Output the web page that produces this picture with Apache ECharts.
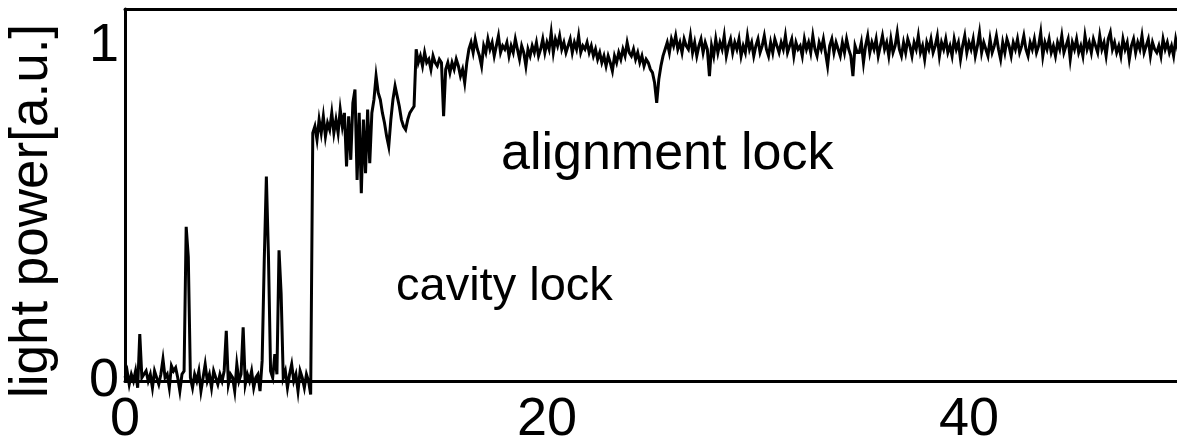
<!DOCTYPE html>
<html>
<head>
<meta charset="utf-8">
<script src="https://cdn.jsdelivr.net/npm/echarts@6/dist/echarts.min.js"></script>
<style>
  html, body { margin: 0; padding: 0; background: #fff; }
  #chart { width: 1177px; height: 447px; }
</style>
</head>
<body>
<div id="chart"></div>
<script>
// Light power trace during lock acquisition, one sample every 0.1 time units.
const sampleStep = 0.1;

// Samples grouped ten per time unit (t = k.0 ... k.9).
const powerUnlocked = [
  0.01, 0.03, -0.01, 0.02, 0.00, 0.03, -0.02, 0.14, 0.01, 0.02,
  0.03, 0.00, 0.02, -0.02, 0.03, 0.01, -0.01, 0.02, 0.065, 0.01,
  0.02, -0.02, 0.045, 0.03, 0.04, 0.01, -0.03, 0.02, 0.03, 0.46,
  0.37, 0.01, -0.02, 0.02, 0.00, 0.03, -0.03, 0.01, 0.05, 0.00,
  0.02, -0.02, 0.03, 0.01, -0.01, 0.02, 0.00, 0.03, 0.15, -0.01,
  0.02, 0.01, -0.03, 0.05, 0.00, 0.02, 0.16, -0.01, 0.02, 0.00,
  0.03, -0.02, 0.01, 0.02, -0.03, 0.06, 0.36, 0.61, 0.37, 0.03,
  0.01, 0.08, 0.02, 0.39, 0.26, 0.01, 0.03, -0.02, 0.02, 0.05,
  0.00, 0.02, -0.03, 0.03, 0.01, -0.02, 0.02, 0.00, -0.04, 0.74
];

const powerCavityLock = [
  0.76, 0.72, 0.78, 0.74, 0.79, 0.73, 0.77, 0.75, 0.80, 0.74,
  0.78, 0.74, 0.81, 0.76, 0.80, 0.64, 0.79, 0.66, 0.83, 0.87,
  0.60, 0.80, 0.56, 0.78, 0.62, 0.81, 0.65, 0.80, 0.84, 0.91,
  0.86, 0.84, 0.80, 0.77, 0.73, 0.70, 0.78, 0.84, 0.88, 0.85,
  0.82, 0.78, 0.76, 0.75, 0.78, 0.80, 0.81, 0.82, 0.99, 0.95,
  0.97, 0.94, 0.98, 0.95, 0.96, 0.93, 0.97, 0.95, 0.94, 0.96,
  0.95, 0.79, 0.93, 0.95, 0.92, 0.95, 0.93, 0.96, 0.94, 0.91,
  0.93, 0.89, 0.95, 0.99, 1.01, 0.98, 1.02, 0.99, 0.97, 0.94
];

const powerAlignmentLock = [
  1.00, 0.98, 1.02, 0.99, 1.01, 0.97, 1.00, 1.03, 0.98, 1.00,
  0.99, 1.01, 0.97, 1.00, 0.98, 1.02, 0.99, 0.96, 1.00, 0.98,
  0.94, 0.99, 0.97, 1.00, 0.98, 1.01, 0.97, 0.99, 1.02, 0.98,
  1.01, 0.99, 1.04, 0.98, 1.02, 1.00, 1.03, 0.99, 1.01, 0.98,
  1.00, 1.02, 0.98, 1.01, 0.99, 1.03, 0.98, 1.00, 0.99, 1.01,
  0.98, 1.00, 0.97, 0.99, 0.96, 0.98, 0.95, 0.97, 0.94, 0.97,
  0.95, 0.925, 0.97, 0.95, 0.98, 0.96, 0.99, 0.97, 1.01, 0.98,
  0.97, 0.99, 0.96, 0.98, 0.95, 0.97, 0.94, 0.96, 0.95, 0.93,
  0.92, 0.89, 0.83, 0.90, 0.94, 0.97, 0.99, 1.01, 0.98, 1.02,
  1.00, 1.03, 0.99, 1.01, 0.98, 1.02, 1.00, 0.99, 1.03, 0.98,
  1.01, 0.97, 1.00, 1.02, 0.98, 1.01, 0.99, 0.91, 1.00, 0.97,
  1.02, 0.98, 1.01, 0.99, 1.03, 0.97, 1.00, 1.02, 0.98, 1.01,
  0.99, 1.02, 0.97, 1.00, 0.98, 1.03, 0.99, 1.01, 0.97, 1.00,
  1.02, 0.98, 1.00, 1.03, 0.99, 0.97, 1.01, 0.98, 1.02, 1.00,
  0.98, 1.01, 0.99, 1.03, 0.98, 1.00, 1.02, 0.97, 1.01, 0.99,
  1.00, 0.97, 1.02, 0.99, 1.01, 0.98, 1.03, 0.99, 0.97, 1.01,
  0.99, 1.02, 0.98, 0.94, 1.00, 1.02, 0.98, 1.01, 0.99, 0.97,
  1.01, 0.98, 1.02, 0.99, 0.97, 0.91, 1.00, 0.98, 0.98, 1.01,
  0.95, 1.00, 1.03, 0.98, 1.01, 0.99, 1.02, 0.97, 1.00, 1.03,
  0.99, 1.01, 0.97, 1.02, 0.98, 1.00, 1.04, 0.99, 0.97, 1.01,
  0.98, 1.02, 1.00, 0.97, 1.01, 0.99, 1.03, 0.98, 1.00, 0.96,
  1.01, 0.99, 1.02, 0.98, 1.00, 1.03, 0.97, 1.01, 0.99, 1.02,
  0.98, 1.00, 0.97, 1.02, 0.99, 1.01, 0.96, 1.00, 1.03, 0.98,
  1.01, 0.99, 1.02, 0.97, 1.00, 1.04, 0.98, 1.01, 0.99, 0.97,
  1.02, 0.98, 1.00, 1.03, 0.99, 0.96, 1.01, 0.98, 1.02, 1.00,
  0.97, 1.01, 0.99, 1.02, 0.98, 1.00, 1.03, 0.99, 0.97, 1.01,
  0.99, 1.02, 0.98, 1.00, 1.04, 0.97, 1.01, 0.99, 1.02, 0.98,
  1.00, 0.97, 1.01, 0.99, 1.03, 0.98, 1.00, 1.02, 0.96, 1.01,
  0.99, 1.02, 0.98, 1.00, 0.97, 1.03, 0.99, 1.01, 0.98, 1.02,
  1.00, 0.98, 1.03, 0.99, 1.01, 0.97, 1.02, 1.04, 0.99, 1.01,
  0.98, 1.00, 0.97, 1.02, 0.99, 1.01, 0.96, 1.00, 1.02, 0.98,
  1.01, 0.99, 1.03, 0.98, 1.00, 1.02, 0.97, 1.01, 0.99, 0.98,
  1.00, 0.97, 1.02, 0.99, 1.01, 0.98, 1.00, 0.97, 1.02, 0.99,
  1.00
];

const xTicks = [0, 20, 40];
const yTicks = [0, 1];
const yTitle = 'light power[a.u.]';
const phaseLabels = ['alignment lock', 'cavity lock'];

const power = powerUnlocked.concat(powerCavityLock, powerAlignmentLock);
const trace = power.map((v, i) => [+(i * sampleStep).toFixed(1), v]);

const font = "'Liberation Sans', Arial, Helvetica, sans-serif";
const frameLine = { show: true, onZero: false, lineStyle: { color: '#000', width: 3 } };

const chart = echarts.init(document.getElementById('chart'), null, { renderer: 'canvas' });
chart.setOption({
  backgroundColor: '#fff',
  animation: false,
  grid: { left: 125, top: 9, right: 0, bottom: 65, show: false },
  xAxis: [
    {
      type: 'value', min: 0, max: 49.86, interval: 20, position: 'bottom',
      axisLine: frameLine,
      axisTick: { show: false },
      splitLine: { show: false },
      axisLabel: {
        color: '#000', fontFamily: font, fontSize: 54, margin: 12,
        showMaxLabel: false,
        formatter: v => (xTicks.includes(v) ? String(v) : '')
      }
    },
    {
      // top edge of the frame
      type: 'value', min: 0, max: 49.86, position: 'top',
      axisLine: frameLine,
      axisTick: { show: false },
      axisLabel: { show: false },
      splitLine: { show: false }
    }
  ],
  yAxis: {
    type: 'value', min: 0, max: 1.11, interval: 1,
    axisLine: frameLine,
    axisTick: { show: false },
    splitLine: { show: false },
    axisLabel: {
      color: '#000', fontFamily: font, fontSize: 54, margin: 6,
      showMaxLabel: false,
      formatter: v => (yTicks.includes(v) ? String(v) : '')
    }
  },
  series: [{
    type: 'line',
    xAxisIndex: 0,
    data: trace,
    showSymbol: false,
    clip: false,
    sampling: null,
    z: 1,
    lineStyle: { color: '#000', width: 3, join: 'miter' },
    emphasis: { disabled: true }
  }],
  graphic: [
    {
      type: 'text', x: 32, y: 211, rotation: Math.PI / 2,
      style: {
        text: yTitle, fill: '#000', font: '53px ' + font,
        textAlign: 'center', textVerticalAlign: 'middle'
      }
    },
    {
      type: 'text', x: 501, y: 155,
      style: {
        text: phaseLabels[0], fill: '#000', font: '52px ' + font,
        textAlign: 'left', textVerticalAlign: 'middle'
      }
    },
    {
      type: 'text', x: 396, y: 287,
      style: {
        text: phaseLabels[1], fill: '#000', font: '47px ' + font,
        textAlign: 'left', textVerticalAlign: 'middle'
      }
    }
  ]
});
</script>
</body>
</html>
